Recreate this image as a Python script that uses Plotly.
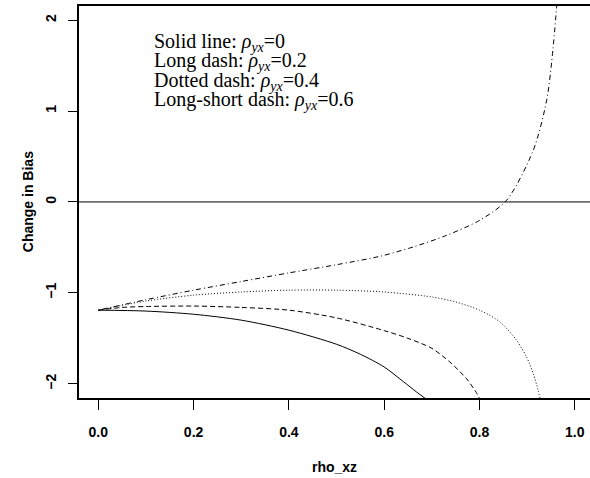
import plotly.graph_objects as go

# values
rho_xz_solid = [0.0, 0.1, 0.2, 0.3, 0.4, 0.5, 0.55, 0.6, 0.64, 0.668, 0.686]
bias_solid = [-1.19, -1.20, -1.235, -1.30, -1.41, -1.565, -1.675, -1.815, -1.975, -2.09, -2.16]

rho_xz_long = [0.0, 0.05, 0.1, 0.2, 0.3, 0.4, 0.5, 0.6, 0.65, 0.7, 0.738, 0.773, 0.795, 0.80]
bias_long = [-1.19, -1.16, -1.15, -1.145, -1.16, -1.19, -1.275, -1.415, -1.50, -1.61, -1.762, -1.945, -2.11, -2.16]

rho_xz_dot = [0.0, 0.1, 0.2, 0.3, 0.4, 0.5, 0.6, 0.7, 0.75, 0.8, 0.843, 0.878, 0.899, 0.913, 0.923, 0.927]
bias_dot = [-1.19, -1.09, -1.025, -0.99, -0.97, -0.97, -0.99, -1.045, -1.10, -1.19, -1.32, -1.523, -1.707, -1.89, -2.07, -2.16]

rho_xz_ls = [0.0, 0.1, 0.2, 0.3, 0.4, 0.5, 0.591, 0.661, 0.731, 0.801, 0.857, 0.913, 0.941, 0.954, 0.962]
bias_ls = [-1.19, -1.075, -0.97, -0.875, -0.78, -0.69, -0.598, -0.495, -0.367, -0.20, 0.02, 0.57, 1.12, 1.67, 2.155]

legend_lines = [
    "Solid line: <i>ρ<sub>yx</sub></i>=0",
    "Long dash: <i>ρ<sub>yx</sub></i>=0.2",
    "Dotted dash: <i>ρ<sub>yx</sub></i>=0.4",
    "Long-short dash: <i>ρ<sub>yx</sub></i>=0.6",
]

x_ticks = [0.0, 0.2, 0.4, 0.6, 0.8, 1.0]
x_tick_text = ["0.0", "0.2", "0.4", "0.6", "0.8", "1.0"]
y_ticks = [-2, -1, 0, 1, 2]

fig = go.Figure()

series = [
    (rho_xz_solid, bias_solid, "solid"),
    (rho_xz_long, bias_long, "5px,3px"),
    (rho_xz_dot, bias_dot, "1px,2px"),
    (rho_xz_ls, bias_ls, "1px,3px,5px,3px"),
]
for xs, ys, dash in series:
    fig.add_trace(
        go.Scatter(
            x=xs,
            y=ys,
            mode="lines",
            line=dict(color="black", width=1, dash=dash, shape="spline", smoothing=0.8),
            showlegend=False
        )
    )

fig.add_hline(y=0, line=dict(color="black", width=1))

for i, txt in enumerate(legend_lines):
    fig.add_annotation(
        x=0.112, y=1.759 - i * 0.215,
        xref="x", yref="y",
        text=txt,
        showarrow=False,
        xanchor="left",
        yanchor="middle",
        font=dict(family="Liberation Serif", size=20, color="black")
    )

fig.add_annotation(
    x=0.5, y=-0.176, xref="x domain", yref="paper",
    text="rho_xz", showarrow=False, yanchor="middle",
    font=dict(family="Liberation Sans", size=14, color="black", weight="bold")
)
fig.add_annotation(
    x=-0.119, y=0.5, xref="x domain", yref="y domain",
    text="Change in Bias", showarrow=False, textangle=-90,
    font=dict(family="Liberation Sans", size=14, color="black", weight="bold")
)

fig.update_xaxes(
    range=[-0.0405, 1.0319],
    tickvals=x_ticks,
    ticktext=x_tick_text,
    ticks="outside",
    ticklen=10,
    tickcolor="black",
    ticklabelstandoff=10,
    showline=True,
    linecolor="black",
    linewidth=1.5,
    mirror=True,
    showgrid=False,
    zeroline=False,
    automargin=False,
    tickfont=dict(family="Liberation Sans", size=14, color="black", weight="bold")
)
fig.update_yaxes(
    range=[-2.156, 2.155],
    tickvals=y_ticks,
    ticks="outside",
    ticklen=9,
    tickcolor="black",
    tickangle=-90,
    ticklabelstandoff=7,
    showline=True,
    linecolor="black",
    linewidth=1.5,
    showgrid=False,
    zeroline=False,
    automargin=False,
    tickfont=dict(family="Liberation Sans", size=14, color="black", weight="bold")
)

fig.update_layout(
    width=590,
    height=478,
    margin=dict(l=79, r=0, t=6, b=80),
    plot_bgcolor="white",
    paper_bgcolor="white"
)

fig.write_html(
    "out.html",
    config={"displayModeBar": False},
    post_script="document.body.style.margin = '0';"
)
